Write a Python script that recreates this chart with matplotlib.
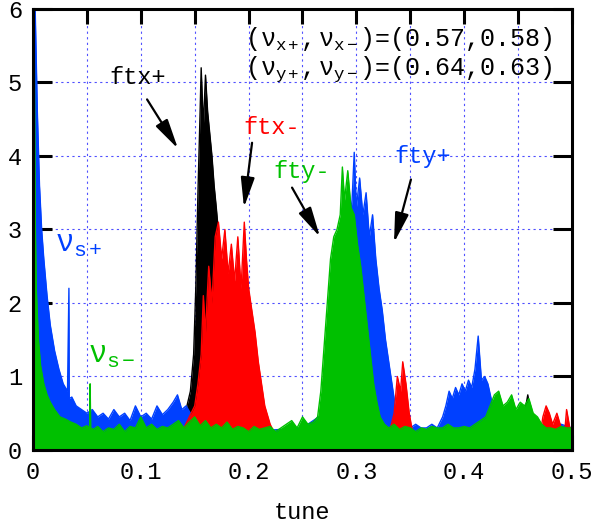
import numpy as np
import matplotlib
matplotlib.use('Agg')
import matplotlib.pyplot as plt

plt.rcParams['font.family'] = ['Liberation Mono', 'DejaVu Sans']
plt.rcParams['mathtext.fontset'] = 'custom'
plt.rcParams['mathtext.rm'] = 'Liberation Mono'
plt.rcParams['mathtext.it'] = 'Liberation Mono'

# spectra: (tune, amplitude) pairs
black_pts = [(0.0, 0.3), (0.003, 0.15), (0.006, 0.1), (0.01, 0.08), (0.03, 0.06),
             (0.06, 0.05), (0.1, 0.05), (0.13, 0.15), (0.138, 0.35), (0.142, 0.55),
             (0.146, 0.8), (0.149, 1.3), (0.151, 2.2), (0.153, 3.5), (0.155, 4.6),
             (0.156, 5.2), (0.158, 4.4), (0.16, 5.1), (0.162, 4.6), (0.164, 4.3),
             (0.166, 4.0), (0.168, 3.6), (0.17, 3.3), (0.173, 2.8), (0.176, 2.3),
             (0.18, 1.8), (0.185, 1.2), (0.19, 0.8), (0.2, 0.4), (0.21, 0.2),
             (0.22, 0.1), (0.25, 0.06), (0.3, 0.05), (0.35, 0.05), (0.4, 0.05),
             (0.44, 0.05), (0.452, 0.3), (0.456, 0.5), (0.459, 0.75), (0.462, 0.45),
             (0.466, 0.3), (0.47, 0.08), (0.5, 0.05)]

red_pts = [(0.0, 0.1), (0.002, 0.3), (0.004, 0.65), (0.006, 0.35), (0.008, 0.45),
           (0.012, 0.3), (0.016, 0.25), (0.02, 0.2), (0.025, 0.18), (0.03, 0.15),
           (0.04, 0.12), (0.05, 0.1), (0.07, 0.1), (0.09, 0.1), (0.11, 0.12),
           (0.13, 0.2), (0.14, 0.3), (0.145, 0.45), (0.15, 0.6), (0.153, 0.9),
           (0.156, 1.3), (0.158, 2.1), (0.16, 1.6), (0.163, 2.5), (0.166, 2.0),
           (0.169, 2.9), (0.172, 3.1), (0.175, 2.6), (0.178, 3.0), (0.181, 2.4),
           (0.184, 2.8), (0.187, 2.3), (0.19, 2.9), (0.193, 2.2), (0.196, 3.1),
           (0.198, 2.6), (0.2, 2.2), (0.203, 1.9), (0.206, 1.6), (0.209, 1.2),
           (0.212, 0.9), (0.215, 0.6), (0.22, 0.35), (0.225, 0.2), (0.23, 0.12),
           (0.25, 0.08), (0.28, 0.1), (0.29, 0.25), (0.295, 0.45), (0.3, 0.3),
           (0.303, 0.45), (0.306, 0.2), (0.31, 0.15), (0.32, 0.1), (0.33, 0.2),
           (0.335, 0.5), (0.338, 1.0), (0.341, 0.8), (0.343, 1.2), (0.346, 0.9),
           (0.349, 0.5), (0.352, 0.25), (0.36, 0.1), (0.4, 0.08), (0.44, 0.08),
           (0.47, 0.15), (0.473, 0.45), (0.476, 0.6), (0.479, 0.5), (0.482, 0.35),
           (0.486, 0.5), (0.49, 0.3), (0.493, 0.2), (0.495, 0.55), (0.498, 0.3),
           (0.5, 0.25)]

blue_pts = [(0.0, 6.0), (0.002, 6.0), (0.004, 4.6), (0.006, 3.6), (0.008, 3.0),
            (0.01, 2.6), (0.013, 2.1), (0.016, 1.7), (0.02, 1.35), (0.024, 1.1),
            (0.028, 0.9), (0.032, 0.8), (0.0333, 2.2), (0.0336, 0.7), (0.036, 0.72),
            (0.04, 0.6), (0.045, 0.55), (0.05, 0.5), (0.055, 0.55), (0.06, 0.45),
            (0.065, 0.5), (0.07, 0.42), (0.075, 0.55), (0.08, 0.45), (0.085, 0.5),
            (0.09, 0.4), (0.095, 0.6), (0.1, 0.45), (0.105, 0.5), (0.11, 0.42),
            (0.115, 0.6), (0.12, 0.48), (0.125, 0.55), (0.13, 0.65), (0.134, 0.75),
            (0.138, 0.55), (0.142, 0.6), (0.146, 0.5), (0.15, 0.3), (0.2, 0.25),
            (0.25, 0.3), (0.27, 0.5), (0.28, 0.8), (0.285, 1.5), (0.29, 2.4),
            (0.293, 3.0), (0.296, 3.4), (0.298, 4.05), (0.3, 3.3), (0.303, 3.7),
            (0.306, 3.2), (0.309, 3.5), (0.312, 2.9), (0.315, 3.2), (0.318, 2.6),
            (0.321, 2.2), (0.324, 1.9), (0.327, 1.5), (0.33, 1.2), (0.333, 0.9),
            (0.336, 0.6), (0.34, 0.45), (0.345, 0.35), (0.35, 0.3), (0.355, 0.35),
            (0.36, 0.3), (0.365, 0.3), (0.37, 0.35), (0.375, 0.3), (0.38, 0.45),
            (0.383, 0.6), (0.386, 0.8), (0.389, 0.7), (0.392, 0.85), (0.395, 0.75),
            (0.398, 0.9), (0.401, 0.8), (0.404, 0.95), (0.407, 0.85), (0.41, 1.1),
            (0.413, 1.55), (0.416, 0.95), (0.419, 1.0), (0.422, 0.9), (0.425, 0.7),
            (0.428, 0.55), (0.432, 0.4), (0.436, 0.35), (0.44, 0.3), (0.45, 0.3),
            (0.46, 0.3), (0.47, 0.3), (0.48, 0.3), (0.49, 0.35), (0.5, 0.3)]

green_pts = [(0.0, 6.0), (0.001, 6.0), (0.002, 3.2), (0.003, 2.2), (0.005, 1.5),
             (0.007, 1.15), (0.01, 0.9), (0.013, 0.75), (0.016, 0.65), (0.02, 0.55),
             (0.025, 0.45), (0.03, 0.42), (0.035, 0.38), (0.04, 0.35), (0.045, 0.3),
             (0.05, 0.33), (0.0525, 0.3), (0.053, 0.9), (0.0535, 0.3), (0.056, 0.28),
             (0.06, 0.32), (0.065, 0.25), (0.07, 0.3), (0.075, 0.28), (0.08, 0.35),
             (0.085, 0.25), (0.09, 0.32), (0.095, 0.3), (0.1, 0.45), (0.105, 0.3),
             (0.11, 0.35), (0.115, 0.28), (0.12, 0.32), (0.125, 0.3), (0.13, 0.35),
             (0.135, 0.4), (0.14, 0.3), (0.145, 0.38), (0.15, 0.45), (0.155, 0.33),
             (0.16, 0.4), (0.165, 0.3), (0.17, 0.35), (0.175, 0.3), (0.18, 0.38),
             (0.185, 0.28), (0.19, 0.32), (0.195, 0.3), (0.2, 0.25), (0.205, 0.32),
             (0.21, 0.28), (0.215, 0.3), (0.22, 0.32), (0.225, 0.25), (0.23, 0.3),
             (0.235, 0.35), (0.24, 0.4), (0.245, 0.3), (0.25, 0.45), (0.255, 0.35),
             (0.26, 0.38), (0.264, 0.45), (0.267, 0.8), (0.27, 1.4), (0.273, 2.0),
             (0.276, 2.6), (0.279, 2.9), (0.282, 3.0), (0.285, 3.2), (0.287, 3.85),
             (0.289, 3.4), (0.292, 3.8), (0.295, 3.3), (0.298, 3.2), (0.301, 2.8),
             (0.304, 2.5), (0.307, 2.1), (0.31, 1.7), (0.313, 1.3), (0.316, 0.9),
             (0.319, 0.65), (0.322, 0.45), (0.326, 0.35), (0.33, 0.3), (0.335, 0.35),
             (0.34, 0.28), (0.345, 0.32), (0.35, 0.3), (0.355, 0.25), (0.36, 0.3),
             (0.365, 0.28), (0.37, 0.32), (0.375, 0.3), (0.38, 0.3), (0.385, 0.35),
             (0.39, 0.3), (0.395, 0.3), (0.4, 0.32), (0.405, 0.3), (0.41, 0.35),
             (0.415, 0.4), (0.42, 0.45), (0.424, 0.6), (0.428, 0.75), (0.432, 0.8),
             (0.436, 0.6), (0.44, 0.65), (0.444, 0.75), (0.448, 0.55), (0.452, 0.65),
             (0.456, 0.6), (0.46, 0.7), (0.464, 0.5), (0.468, 0.45), (0.472, 0.35),
             (0.476, 0.3), (0.48, 0.3), (0.485, 0.28), (0.49, 0.32), (0.495, 0.3),
             (0.5, 0.3)]

series = [(black_pts, '#000000'), (blue_pts, '#0040ff'),
          (red_pts, '#ff0000'), (green_pts, '#00c000')]

fig = plt.figure(figsize=(5.95, 5.23), dpi=100)
ax = fig.add_axes([0.0555, 0.1396, 0.9058, 0.8432])

for pts, col in series:
    arr = np.array(pts)
    ax.fill_between(arr[:, 0], 0, arr[:, 1], color=col, lw=0, zorder=2)
    ax.plot(arr[:, 0], arr[:, 1], color=col, lw=1.0, zorder=2)

ax.set_xlim(0, 0.5)
ax.set_ylim(0, 6)
ax.set_xticks(np.arange(0, 0.51, 0.1))
ax.set_xticklabels(['0', '0.1', '0.2', '0.3', '0.4', '0.5'])
ax.set_xticks(np.arange(0.05, 0.5, 0.1), minor=True)
ax.set_yticks(range(7))
ax.tick_params(axis='both', which='both', direction='in', top=True, right=True,
               width=2.2, labelsize=17, pad=8)
ax.tick_params(axis='x', which='both', length=11)
ax.tick_params(axis='y', length=14)
ax.grid(True, which='both', color='#5050ff', ls=(0, (2, 3)), lw=0.8, zorder=0)
ax.set_axisbelow(True)
for s in ax.spines.values():
    s.set_linewidth(2.2)
    s.set_zorder(5)
ax.set_xlabel('tune', fontsize=17, labelpad=12)

arrow = dict(arrowstyle='-|>,head_length=1.3,head_width=0.3', color='black',
             lw=1.6, mutation_scale=14, shrinkA=0, shrinkB=0)
ax.annotate('', xy=(0.1345, 4.10), xytext=(0.1058, 4.77), arrowprops=arrow, zorder=6)
ax.annotate('', xy=(0.1957, 3.30), xytext=(0.2032, 4.18), arrowprops=arrow, zorder=6)
ax.annotate('', xy=(0.2662, 2.90), xytext=(0.2403, 3.57), arrowprops=arrow, zorder=6)
ax.annotate('', xy=(0.3349, 2.82), xytext=(0.3506, 3.68), arrowprops=arrow, zorder=6)

ax.text(0.0974, 5.07, 'ftx+', color='black', fontsize=17, ha='center', va='center',
        zorder=6)
ax.text(0.2217, 4.39, 'ftx-', color='#ff0000', fontsize=17, ha='center',
        va='center', zorder=6)
ax.text(0.2495, 3.79, 'fty-', color='#00c000', fontsize=17, ha='center',
        va='center', zorder=6)
ax.text(0.3618, 3.99, 'fty+', color='#0040ff', fontsize=17, ha='center',
        va='center', zorder=6)
ax.text(0.0204, 2.8, r'$\nu_{s+}$', color='#0040ff', fontsize=22, ha='left',
        va='center', zorder=6)
ax.text(0.051, 1.29, r'$\nu_{s-}$', color='#00c000', fontsize=22, ha='left',
        va='center', zorder=6)
ax.text(0.4825, 5.59, r'$(\nu_{x+},\nu_{x-})$=(0.57,0.58)', fontsize=18,
        ha='right', va='center', zorder=6)
ax.text(0.4825, 5.18, r'$(\nu_{y+},\nu_{y-})$=(0.64,0.63)', fontsize=18,
        ha='right', va='center', zorder=6)

fig.savefig('out.png', dpi=100)
